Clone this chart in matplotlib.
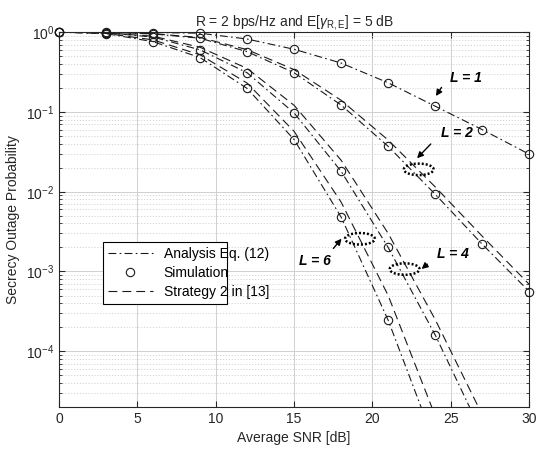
import numpy as np
import matplotlib
matplotlib.use('Agg')
import matplotlib.pyplot as plt
from matplotlib.lines import Line2D

plt.rcParams['font.family'] = ['Liberation Sans', 'DejaVu Sans']
plt.rcParams['mathtext.fontset'] = 'custom'
plt.rcParams['mathtext.rm'] = 'Liberation Sans'
plt.rcParams['mathtext.it'] = 'Liberation Sans:italic'

# data
snr = [0, 3, 6, 9, 12, 15, 18, 21, 24, 27, 30]

# analysis Eq. (12) (simulation markers sit on these points)
ana_L1 = [1.0, 0.99, 0.99, 0.97, 0.82, 0.61, 0.41, 0.232, 0.118, 0.060, 0.0295]
ana_L2 = [1.0, 0.995, 0.95, 0.84, 0.57, 0.31, 0.122, 0.037, 0.0093, 0.0022, 5.6e-4]
ana_L4 = [1.0, 0.98, 0.87, 0.60, 0.31, 0.097, 0.018, 0.002, 1.6e-4, 9.3e-6]
ana_L6 = [1.0, 0.96, 0.76, 0.48, 0.197, 0.045, 0.0048, 2.45e-4, 6.8e-6]

# strategy 2 in [13]
s2_L2 = [1.0, 0.993, 0.957, 0.857, 0.604, 0.339, 0.140, 0.0444, 0.0115, 0.00277, 6.9e-4]
s2_L4 = [1.0, 0.977, 0.89, 0.646, 0.351, 0.121, 0.0248, 0.0030, 2.5e-4, 1.6e-5]
s2_L6 = [1.0, 0.965, 0.80, 0.52, 0.23, 0.057, 0.0074, 5.0e-4, 1.55e-5]

# annotation: label, text pos, arrow tail/head, ellipse centre (x, log10 y)
labels = ['L = 1', 'L = 2', 'L = 4', 'L = 6']
text_xy = [(25.95, 0.27), (25.37, 0.0537), (25.15, 0.00166), (16.34, 0.00134)]
tail_xy = [(24.5, 0.217), (23.84, 0.042), (23.63, 0.0013), (17.39, 0.00183)]
head_xy = [(23.95, 0.148), (22.72, 0.0248), (23.0, 0.00102), (18.14, 0.00274)]
ell_c = [None, (22.95, -1.72), (22.05, -2.97), (19.2, -2.59)]

ymin = 2e-5

fig = plt.figure(figsize=(5.38, 4.53), dpi=100)
ax = fig.add_axes([0.1097, 0.1015, 0.874, 0.8275])

lc = '#1a1a1a'
dd = (7, 3, 1.5, 3)
da = (8, 4.5)
for y in [ana_L1, ana_L2, ana_L4, ana_L6]:
    x = np.array(snr[:len(y)])
    y = np.array(y)
    ax.plot(x, y, color=lc, lw=0.8, dashes=dd)
    keep = y >= ymin
    ax.plot(x[keep], y[keep], ls='none', marker='o', ms=6, mfc='none',
            mec=lc, mew=0.8, clip_on=False, zorder=3)
for y in [s2_L2, s2_L4, s2_L6]:
    ax.plot(snr[:len(y)], y, color=lc, lw=0.8, dashes=da)

# dotted ellipses
t = np.linspace(0, 2 * np.pi, 100)
for c in ell_c:
    if c is None:
        continue
    ax.plot(c[0] + 0.95 * np.cos(t), 10 ** (c[1] + 0.072 * np.sin(t)),
            color='k', lw=1.8, ls=(0, (0.8, 0.8)))

for lab, txy, tl, hd in zip(labels, text_xy, tail_xy, head_xy):
    ax.text(txy[0], txy[1], lab, fontsize=10, fontweight='bold',
            fontstyle='italic', ha='center', va='center')
    ax.annotate('', xy=hd, xytext=tl,
                arrowprops=dict(arrowstyle='-|>', color='k', lw=1,
                                mutation_scale=9))

ax.set_yscale('log')
ax.set_xlim(0, 30)
ax.set_ylim(ymin, 1)
ax.set_xticks([0, 5, 10, 15, 20, 25, 30])
ax.set_yticks([1e-4, 1e-3, 1e-2, 1e-1, 1])
ax.grid(True, which='major', color='#d0d0d0', lw=0.7)
ax.grid(True, which='minor', axis='y', color='#d0d0d0', lw=0.6, ls=(0, (1.5, 2)))
ax.tick_params(which='both', direction='in', top=True, right=True,
               labelsize=10, colors='#262626')
ax.tick_params(which='major', length=4)
ax.tick_params(which='minor', length=2)
for s in ax.spines.values():
    s.set_color('#262626')
    s.set_linewidth(0.8)

ax.set_xlabel('Average SNR [dB]', fontsize=10, color='#262626')
ax.set_ylabel('Secrecy Outage Probability', fontsize=10, color='#262626')
ax.set_title(r'R = 2 bps/Hz and E[$\gamma_{\rm R,E}$] = 5 dB', fontsize=10,
             color='#262626', pad=4)

handles = [Line2D([], [], color=lc, lw=0.8, dashes=dd),
           Line2D([], [], ls='none', marker='o', ms=6, mfc='none', mec=lc, mew=0.8),
           Line2D([], [], color=lc, lw=0.8, dashes=da)]
leg = ax.legend(handles, ['Analysis Eq. (12)', 'Simulation', 'Strategy 2 in [13]'],
                loc='lower left', bbox_to_anchor=(0.094, 0.275, 0.263, 0.178),
                mode='expand', borderaxespad=0, fontsize=10, fancybox=False,
                framealpha=1, edgecolor='k', handlelength=3.2, borderpad=0.35,
                labelspacing=0.35)
leg.get_frame().set_linewidth(0.8)
leg.set_zorder(5)

fig.savefig('out.png', dpi=100)
